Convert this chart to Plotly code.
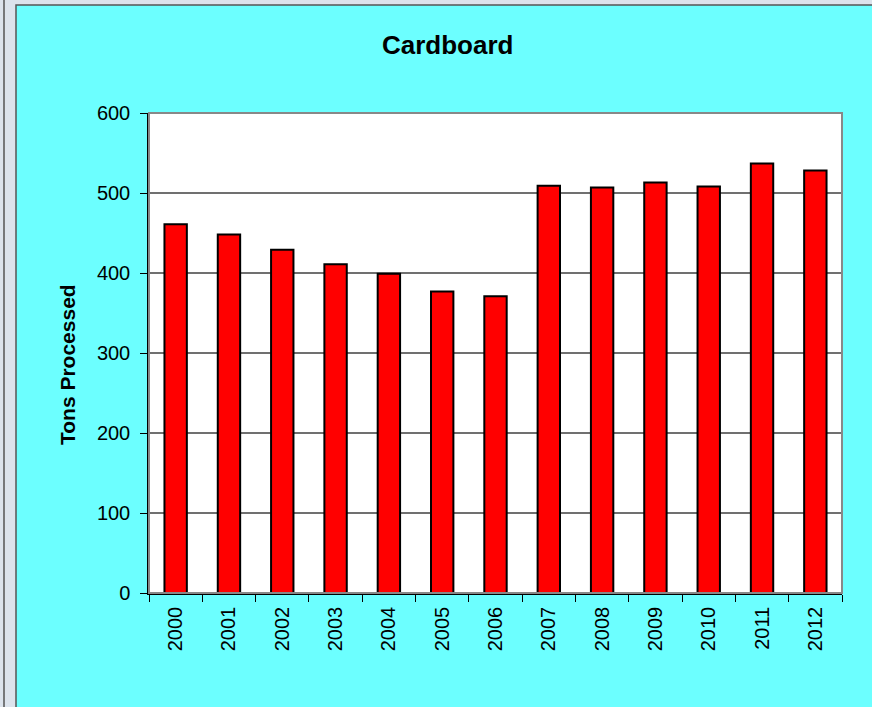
import plotly.graph_objects as go

years = ["2000", "2001", "2002", "2003", "2004", "2005", "2006",
         "2007", "2008", "2009", "2010", "2011", "2012"]
tons = [461, 448, 429, 411, 399, 377, 371, 509, 507, 513, 508, 537, 528]
y_ticks = [0, 100, 200, 300, 400, 500, 600]

W, H = 872, 707
L, R, T, B = 149, 842, 113, 593

fig = go.Figure(go.Bar(
    x=years, y=tons,
    marker=dict(color="#FF0000", line=dict(color="#000000", width=2)),
    width=0.42,
))

def px_x(p):
    return (p - L) / (R - L)

def px_y(p):
    return (B - p) / (B - T)

fig.update_layout(
    width=W, height=H,
    margin=dict(l=L, r=W - R, t=T, b=H - B, pad=0),
    paper_bgcolor="#6CFFFF",
    plot_bgcolor="#FFFFFF",
    showlegend=False,
    font=dict(family="Liberation Sans, Arial, sans-serif", size=20, color="#000000"),
    shapes=[
        dict(type="rect", xref="paper", yref="paper", layer="below",
             x0=px_x(-5), x1=px_x(16), y0=px_y(720), y1=px_y(-5),
             fillcolor="#DCE3EC", line=dict(width=0)),
        dict(type="rect", xref="paper", yref="paper", layer="below",
             x0=px_x(-5), x1=px_x(880), y0=px_y(5), y1=px_y(-5),
             fillcolor="#DCE3EC", line=dict(width=0)),
        dict(type="rect", xref="paper", yref="paper", layer="below",
             x0=px_x(16), x1=px_x(880), y0=px_y(720), y1=px_y(5),
             fillcolor="rgba(0,0,0,0)", line=dict(color="#555555", width=1.5)),
        dict(type="line", xref="paper", yref="paper", layer="below",
             x0=px_x(4), x1=px_x(4), y0=px_y(720), y1=px_y(0),
             line=dict(color="#555555", width=1.5)),
        dict(type="rect", xref="paper", yref="paper", layer="above",
             x0=0, x1=1, y0=0, y1=1, line=dict(color="#888888", width=2)),
    ],
    annotations=[
        dict(text="<b>Cardboard</b>", xref="paper", yref="paper",
             x=px_x(447), y=px_y(45), showarrow=False,
             font=dict(size=26), xanchor="center", yanchor="middle"),
        dict(text="<b>Tons Processed</b>", xref="paper", yref="paper",
             x=px_x(67), y=px_y(365), showarrow=False, textangle=-90,
             font=dict(size=21), xanchor="center", yanchor="middle"),
    ],
    xaxis=dict(
        tickangle=-90, tickson="boundaries", ticks="outside", ticklen=7,
        tickcolor="#000000", showgrid=False, showline=True,
        linecolor="#000000", linewidth=1.5, tickfont=dict(size=20),
        ticklabelstandoff=4,
    ),
    yaxis=dict(
        range=[0, 600], tickvals=y_ticks, ticks="outside", ticklen=7,
        tickcolor="#000000", showgrid=True, gridcolor="#707070", gridwidth=1.5,
        showline=True, linecolor="#000000", linewidth=1.5, zeroline=False,
        tickfont=dict(size=20), ticklabelstandoff=6,
    ),
)

fig.write_html(
    "out.html",
    config={"displayModeBar": False},
    post_script="document.body.style.margin='0';document.body.style.overflow='hidden';",
)
